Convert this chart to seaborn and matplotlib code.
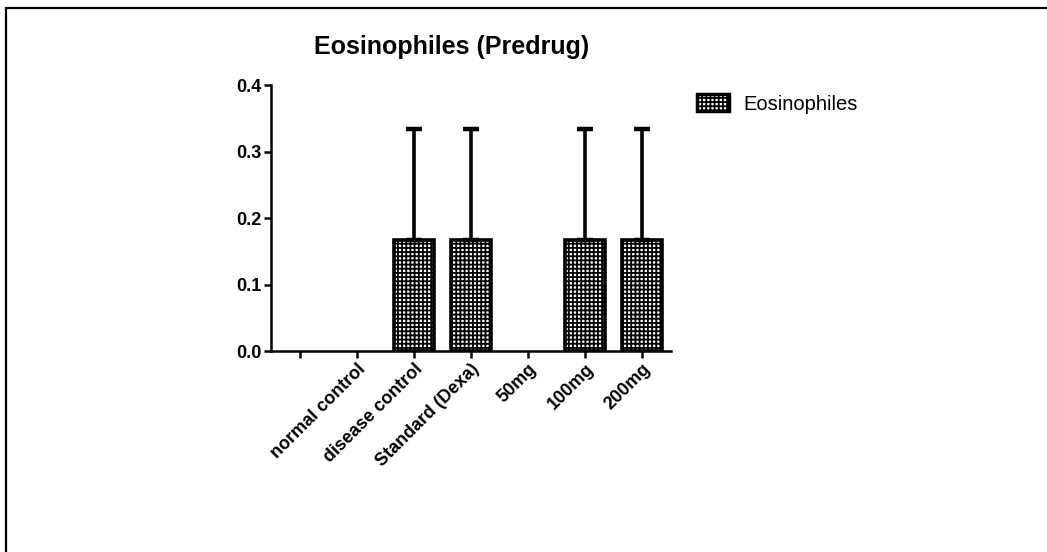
import numpy as np
import pandas as pd
import matplotlib
matplotlib.use("Agg")
import matplotlib.pyplot as plt
import seaborn as sns
from matplotlib.lines import Line2D
from matplotlib.patches import Patch

# data (mean +/- SEM)
groups = ["", "normal control", "disease control", "Standard (Dexa)", "50mg", "100mg", "200mg"]
means = [0.0, 0.0, 0.1667, 0.1667, 0.0, 0.1667, 0.1667]
sems = [0.0, 0.0, 0.1667, 0.1667, 0.0, 0.1667, 0.1667]
y_ticks = [0.0, 0.1, 0.2, 0.3, 0.4]

sns.set_style("ticks", {"axes.edgecolor": "black", "text.color": "black",
                        "xtick.color": "black", "ytick.color": "black",
                        "axes.labelcolor": "black"})
plt.rcParams["font.family"] = ["Liberation Sans", "DejaVu Sans"]
plt.rcParams["hatch.linewidth"] = 1.3

df = pd.DataFrame({"group": groups, "value": means})

fig = plt.figure(figsize=(10.47, 5.52), dpi=100)
ax = fig.add_axes([0.2588, 0.3641, 0.382, 0.4819])

sns.barplot(data=df, x="group", y="value", order=groups, errorbar=None,
            color="white", edgecolor="black", linewidth=2.6, width=0.7,
            hatch="++++", ax=ax)
# empty groups: no outline drawn on the axis line
for bar in ax.patches:
    if bar.get_height() == 0:
        bar.set_linewidth(0)

pos = np.arange(len(groups))
has_bar = np.array(means) > 0
ax.errorbar(pos[has_bar], np.array(means)[has_bar],
            yerr=[np.zeros(has_bar.sum()), np.array(sems)[has_bar]],
            fmt="none", ecolor="black", elinewidth=2.6, capsize=6, capthick=3.2)

ax.set_xlim(-0.5, 6.5)
ax.set_ylim(0, 0.4)
ax.set_yticks(y_ticks)
ax.set_yticklabels([f"{t:.1f}" for t in y_ticks], fontsize=13, fontweight="bold")
ax.set_xticks(pos)
ax.set_xticklabels(groups, rotation=45, ha="right", rotation_mode="anchor",
                   fontsize=13, fontweight="bold")
ax.set_xlabel("")
ax.set_ylabel("")
ax.set_title("Eosinophiles (Predrug)", fontsize=18, fontweight="bold",
             x=0.4525, pad=22, color="black")

sns.despine(ax=ax)
for side in ["left", "bottom"]:
    ax.spines[side].set_linewidth(1.8)
ax.tick_params(width=1.8, length=5, color="black", pad=2)

handle = Patch(facecolor="white", edgecolor="black", hatch="++++", linewidth=2.5)
fig.legend([handle], ["Eosinophiles"], loc="upper left",
           bbox_to_anchor=(0.648, 0.862), frameon=False, fontsize=14.5,
           handlelength=1.6, handleheight=0.9, handletextpad=0.7)

# partial frame around the picture (top and left edges only)
fig.add_artist(Line2D([6 / 1047, 6 / 1047], [0, 1 - 8 / 552], color="black", lw=1.6))
fig.add_artist(Line2D([6 / 1047, 1], [1 - 8 / 552, 1 - 8 / 552], color="black", lw=1.6))

fig.savefig("out.png", dpi=100)
